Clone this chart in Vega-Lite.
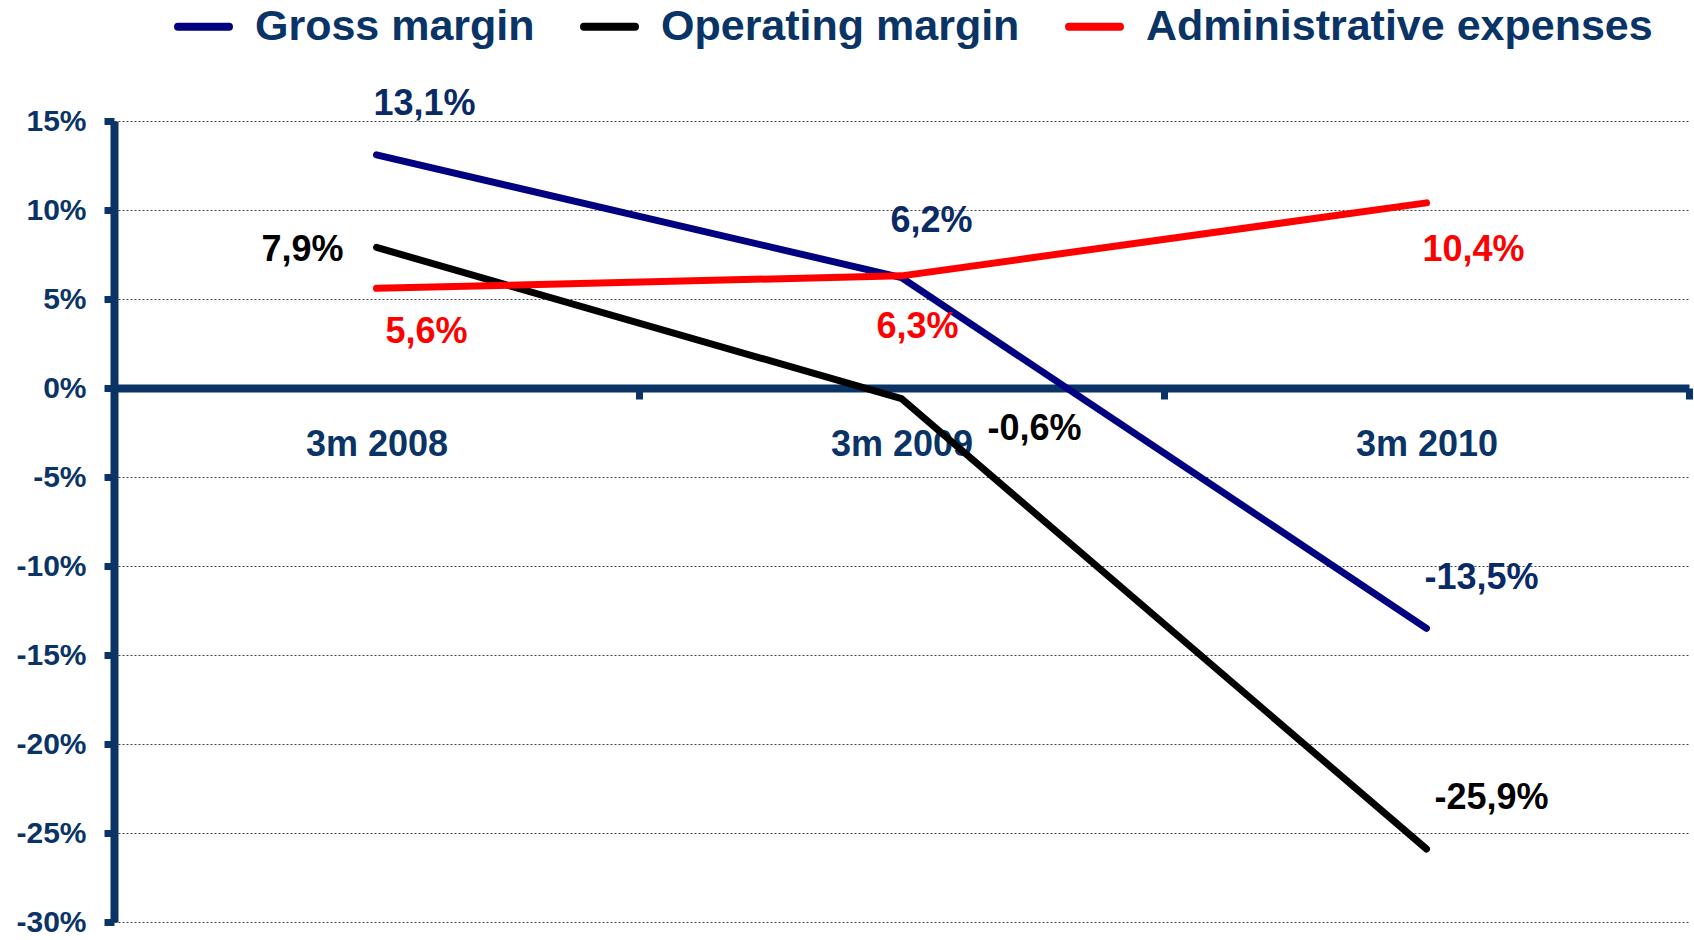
{
  "$schema": "https://vega.github.io/schema/vega-lite/v6.json",
  "width": 1575,
  "height": 801,
  "autosize": {"type": "none"},
  "padding": {"left": 114, "top": 121, "right": 5, "bottom": 18},
  "background": "white",
  "config": {"view": {"stroke": null}, "font": "Liberation Sans"},
  "data": {"values": [
    {"period": "3m 2008", "series": "Gross margin", "value": 13.1, "label": "13,1%"},
    {"period": "3m 2009", "series": "Gross margin", "value": 6.2, "label": "6,2%"},
    {"period": "3m 2010", "series": "Gross margin", "value": -13.5, "label": "-13,5%"},
    {"period": "3m 2008", "series": "Operating margin", "value": 7.9, "label": "7,9%"},
    {"period": "3m 2009", "series": "Operating margin", "value": -0.6, "label": "-0,6%"},
    {"period": "3m 2010", "series": "Operating margin", "value": -25.9, "label": "-25,9%"},
    {"period": "3m 2008", "series": "Administrative expenses", "value": 5.6, "label": "5,6%"},
    {"period": "3m 2009", "series": "Administrative expenses", "value": 6.3, "label": "6,3%"},
    {"period": "3m 2010", "series": "Administrative expenses", "value": 10.4, "label": "10,4%"}
  ]},
  "encoding": {
    "x": {
      "field": "period", "type": "nominal",
      "scale": {"type": "band", "paddingInner": 0, "paddingOuter": 0},
      "axis": {
        "title": null, "orient": "bottom", "offset": -534,
        "domainColor": "#0a3366", "domainWidth": 8,
        "tickColor": "#0a3366", "tickWidth": 7, "tickSize": 11, "tickBand": "extent",
        "labelAngle": 0, "labelFontSize": 36, "labelFontWeight": "bold", "labelColor": "#0a3366",
        "labelPadding": 28, "grid": false, "zindex": 0
      }
    },
    "y": {
      "field": "value", "type": "quantitative",
      "scale": {"domain": [-30, 15], "nice": false, "zero": false},
      "axis": {
        "title": null, "values": [-30, -25, -20, -15, -10, -5, 0, 5, 10, 15],
        "labelExpr": "datum.value + '%'",
        "domainColor": "#0a3366", "domainWidth": 8,
        "tickColor": "#0a3366", "tickWidth": 7, "tickSize": 10,
        "labelFontSize": 30, "labelFontWeight": "bold", "labelColor": "#0a3366", "labelPadding": 18,
        "grid": true, "gridColor": "#444444", "gridDash": [2, 2], "gridWidth": 1, "zindex": 0
      }
    }
  },
  "layer": [
    {
      "mark": {"type": "line", "strokeWidth": 7, "strokeCap": "round", "strokeJoin": "round"},
      "encoding": {
        "color": {
          "field": "series", "type": "nominal",
          "scale": {"domain": ["Gross margin", "Operating margin", "Administrative expenses"], "range": ["#000080", "#000000", "#ff0000"]},
          "legend": {
            "orient": "none", "legendX": 60, "legendY": -124, "direction": "horizontal",
            "title": null, "padding": 0,
            "symbolType": "stroke", "symbolSize": 2600, "symbolStrokeWidth": 8,
            "labelFontSize": 43, "labelFontWeight": "bold", "labelColor": "#0a3366", "labelFont": "Liberation Sans",
            "labelOffset": 22, "columnPadding": 33, "labelLimit": 1000,
            "encode": {"symbols": {"update": {"strokeCap": {"value": "round"}}}}
          }
        }
      }
    },
    {"transform": [{"filter": "datum.series === 'Gross margin' && datum.period === '3m 2008'"}],
     "mark": {"type": "text", "dx": 48, "dy": -51, "fontSize": 36, "fontWeight": "bold", "color": "#0a2a66"},
     "encoding": {"text": {"field": "label"}}},
    {"transform": [{"filter": "datum.series === 'Gross margin' && datum.period === '3m 2009'"}],
     "mark": {"type": "text", "dx": 30, "dy": -57, "fontSize": 36, "fontWeight": "bold", "color": "#0a2a66"},
     "encoding": {"text": {"field": "label"}}},
    {"transform": [{"filter": "datum.series === 'Gross margin' && datum.period === '3m 2010'"}],
     "mark": {"type": "text", "dx": 55, "dy": -50, "fontSize": 36, "fontWeight": "bold", "color": "#0a2a66"},
     "encoding": {"text": {"field": "label"}}},
    {"transform": [{"filter": "datum.series === 'Operating margin' && datum.period === '3m 2008'"}],
     "mark": {"type": "text", "align": "right", "dx": -33, "dy": 3, "fontSize": 36, "fontWeight": "bold", "color": "#000000"},
     "encoding": {"text": {"field": "label"}}},
    {"transform": [{"filter": "datum.series === 'Operating margin' && datum.period === '3m 2009'"}],
     "mark": {"type": "text", "dx": 133, "dy": 30, "fontSize": 36, "fontWeight": "bold", "color": "#000000"},
     "encoding": {"text": {"field": "label"}}},
    {"transform": [{"filter": "datum.series === 'Operating margin' && datum.period === '3m 2010'"}],
     "mark": {"type": "text", "dx": 65, "dy": -51, "fontSize": 36, "fontWeight": "bold", "color": "#000000"},
     "encoding": {"text": {"field": "label"}}},
    {"transform": [{"filter": "datum.series === 'Administrative expenses' && datum.period === '3m 2008'"}],
     "mark": {"type": "text", "dx": 50, "dy": 44, "fontSize": 36, "fontWeight": "bold", "color": "#ff0000"},
     "encoding": {"text": {"field": "label"}}},
    {"transform": [{"filter": "datum.series === 'Administrative expenses' && datum.period === '3m 2009'"}],
     "mark": {"type": "text", "dx": 16, "dy": 51, "fontSize": 36, "fontWeight": "bold", "color": "#ff0000"},
     "encoding": {"text": {"field": "label"}}},
    {"transform": [{"filter": "datum.series === 'Administrative expenses' && datum.period === '3m 2010'"}],
     "mark": {"type": "text", "dx": 47, "dy": 47, "fontSize": 36, "fontWeight": "bold", "color": "#ff0000"},
     "encoding": {"text": {"field": "label"}}}
  ]
}
